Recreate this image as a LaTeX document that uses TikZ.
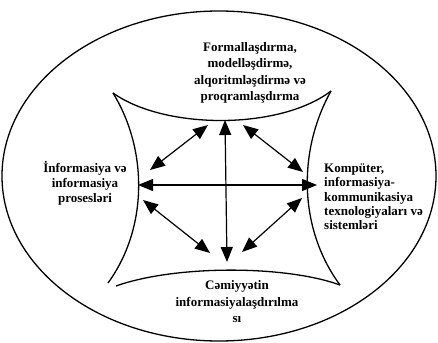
\documentclass[tikz,border=0pt]{standalone}
\usepackage{fontspec}
\setmainfont{Liberation Serif}
\usepackage{tikz}
\usetikzlibrary{arrows.meta, positioning}

\begin{document}
\begin{tikzpicture}[
    x=1pt, y=-1pt,
    lbl/.style={align=center, font=\bfseries\fontsize{13}{16.5}\selectfont, inner sep=0pt},
    dblarrow/.style={line width=1.2pt, {Triangle[length=15pt,width=12pt]}-{Triangle[length=15pt,width=12pt]}},
    edge/.style={line width=1.3pt}
]
\useasboundingbox (0,0) rectangle (438,342);

\draw[edge] (219,176) ellipse [x radius=217, y radius=165];

\coordinate (ctl) at (113,93);
\coordinate (ctr) at (331,91);
\coordinate (cbl) at (108,283);
\coordinate (cblb) at (116,286);
\coordinate (cbr) at (340,285);

\draw[edge] (ctl) .. controls (165,130) and (280,130) .. (ctr);
\draw[edge] (ctl) .. controls (148,150) and (148,228) .. (cbl);
\draw[edge] (ctr) .. controls (298,150) and (298,228) .. (cbr);
\draw[edge] (cblb) .. controls (175,265) and (285,265) .. (cbr);

\node[lbl] (form) at (250,73) {Formallaşdırma,\\modelləşdirmə,\\alqoritmləşdirmə və\\proqramlaşdırma};
\node[lbl, font=\bfseries\fontsize{13}{15}\selectfont] (info) at (85,183) {İnformasiya və\\informasiya\\prosesləri};
\node[lbl, align=left, anchor=west, font=\bfseries\fontsize{13}{14.3}\selectfont] (komp) at (324,197) {Kompüter,\\informasiya-\\kommunikasiya\\texnologiyaları və\\sistemləri};
\node[lbl] (cem) at (237,302) {Cəmiyyətin\\informasiyalaşdırılma\\sı};

\coordinate (t1) at (208,125);
\coordinate (t2) at (225,120);
\coordinate (t3) at (243,125);
\coordinate (l1) at (150,170);
\coordinate (l2) at (138,185);
\coordinate (l3) at (143,200);
\coordinate (r1) at (303,172);
\coordinate (r2) at (317,185);
\coordinate (r3) at (302,198);
\coordinate (b1) at (210,253);
\coordinate (b2) at (227,262);
\coordinate (b3) at (242,252);

\draw[dblarrow] (t1) -- (l1);
\draw[dblarrow] (t3) -- (r1);
\draw[dblarrow] (t2) -- (b2);
\draw[dblarrow] (l2) -- (r2);
\draw[dblarrow] (l3) -- (b1);
\draw[dblarrow] (r3) -- (b3);

\end{tikzpicture}
\end{document}
